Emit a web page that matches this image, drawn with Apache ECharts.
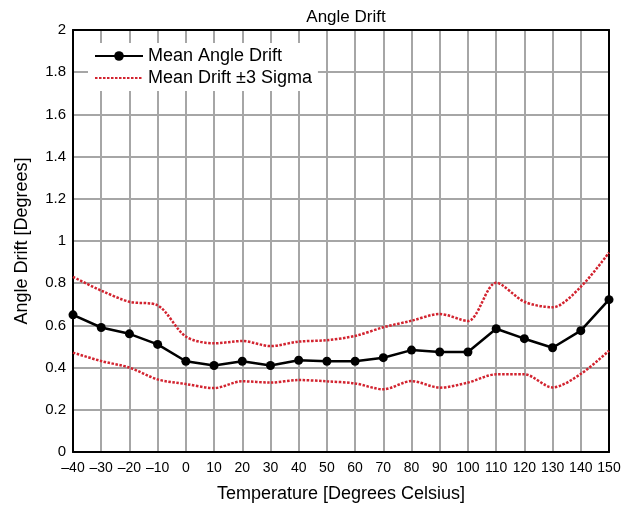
<!DOCTYPE html>
<html><head><meta charset="utf-8">
<script src="https://cdn.jsdelivr.net/npm/echarts@6/dist/echarts.min.js"></script>
<style>html,body{margin:0;padding:0;background:#fff}#c{width:632px;height:508px}</style>
</head><body><div id="c"></div>
<script>
const temps = [-40,-30,-20,-10,0,10,20,30,40,50,60,70,80,90,100,110,120,130,140,150];
const meanDrift = [0.65,0.59,0.56,0.51,0.43,0.41,0.43,0.41,0.435,0.43,0.43,0.447,0.483,0.474,0.474,0.584,0.537,0.494,0.575,0.722];
const upper3s = [0.83,0.765,0.712,0.695,0.547,0.515,0.526,0.502,0.523,0.53,0.55,0.591,0.622,0.654,0.621,0.802,0.712,0.686,0.783,0.945];
const lower3s = [0.471,0.431,0.40,0.344,0.322,0.303,0.335,0.329,0.341,0.335,0.325,0.297,0.336,0.305,0.329,0.368,0.368,0.306,0.37,0.48];
const pairs = a => temps.map((t,i)=>[t,a[i]]);
const font = 'Liberation Sans, Arial, sans-serif';
const chart = echarts.init(document.getElementById('c'));
const red = '#d2232f';
const gridC = '#a6a6a6';
chart.setOption({
  animation:false,
  title:{text:'Angle Drift',left:341,textAlign:'center',top:4,textStyle:{fontFamily:font,fontSize:17,fontWeight:'normal',color:'#000'}},
  grid:{left:73,right:23,top:30,bottom:56},
  legend:{left:88,top:43,orient:'vertical',backgroundColor:'#fff',padding:[4,6,4,6],itemGap:4,itemWidth:48,itemHeight:12,
    textStyle:{fontFamily:font,fontSize:18,color:'#000'},
    data:[{name:'Mean Angle Drift'},{name:'Mean Drift ±3 Sigma',itemStyle:{opacity:0}}]},
  xAxis:[{type:'value',min:-40,max:150,interval:10,
    name:'Temperature [Degrees Celsius]',nameLocation:'middle',nameGap:33,nameTextStyle:{fontFamily:font,fontSize:18,color:'#000'},
    axisLine:{show:true,onZero:false,lineStyle:{color:'#000',width:2}},axisTick:{show:false},
    axisLabel:{fontFamily:font,fontSize:14,color:'#000',margin:9,formatter:v=>String(v).replace('-','\u2013')},
    splitLine:{show:true,lineStyle:{color:gridC,width:2}}},
    {type:'value',position:'top',min:-40,max:150,interval:10,axisLine:{show:true,onZero:false,lineStyle:{color:'#000',width:2}},
     axisTick:{show:false},axisLabel:{show:false},splitLine:{show:false}}],
  yAxis:[{type:'value',min:0,max:2,interval:0.2,
    name:'Angle Drift [Degrees]',nameLocation:'middle',nameGap:42,nameTextStyle:{fontFamily:font,fontSize:18,color:'#000'},
    axisLine:{show:true,onZero:false,lineStyle:{color:'#000',width:2}},axisTick:{show:false},
    axisLabel:{fontFamily:font,fontSize:15,color:'#000',margin:7,formatter:v=>String(+v.toFixed(1))},
    splitLine:{show:true,lineStyle:{color:gridC,width:2}}},
    {type:'value',position:'right',min:0,max:2,interval:0.2,axisLine:{show:true,onZero:false,lineStyle:{color:'#000',width:2}},
     axisTick:{show:false},axisLabel:{show:false},splitLine:{show:false}}],
  series:[
    {name:'Mean Drift ±3 Sigma',type:'line',data:pairs(upper3s),symbol:'none',smooth:0.3,
      lineStyle:{color:red,width:2.5,type:[2.5,1.5]},itemStyle:{color:red},z:3},
    {name:'Mean Drift ±3 Sigma',type:'line',data:pairs(lower3s),symbol:'none',smooth:0.3,
      lineStyle:{color:red,width:2.5,type:[2.5,1.5]},itemStyle:{color:red},z:3},
    {name:'Mean Angle Drift',type:'line',data:pairs(meanDrift),symbol:'circle',symbolSize:9,
      lineStyle:{color:'#000',width:2.5},itemStyle:{color:'#000'},z:4}
  ]
});
</script></body></html>
